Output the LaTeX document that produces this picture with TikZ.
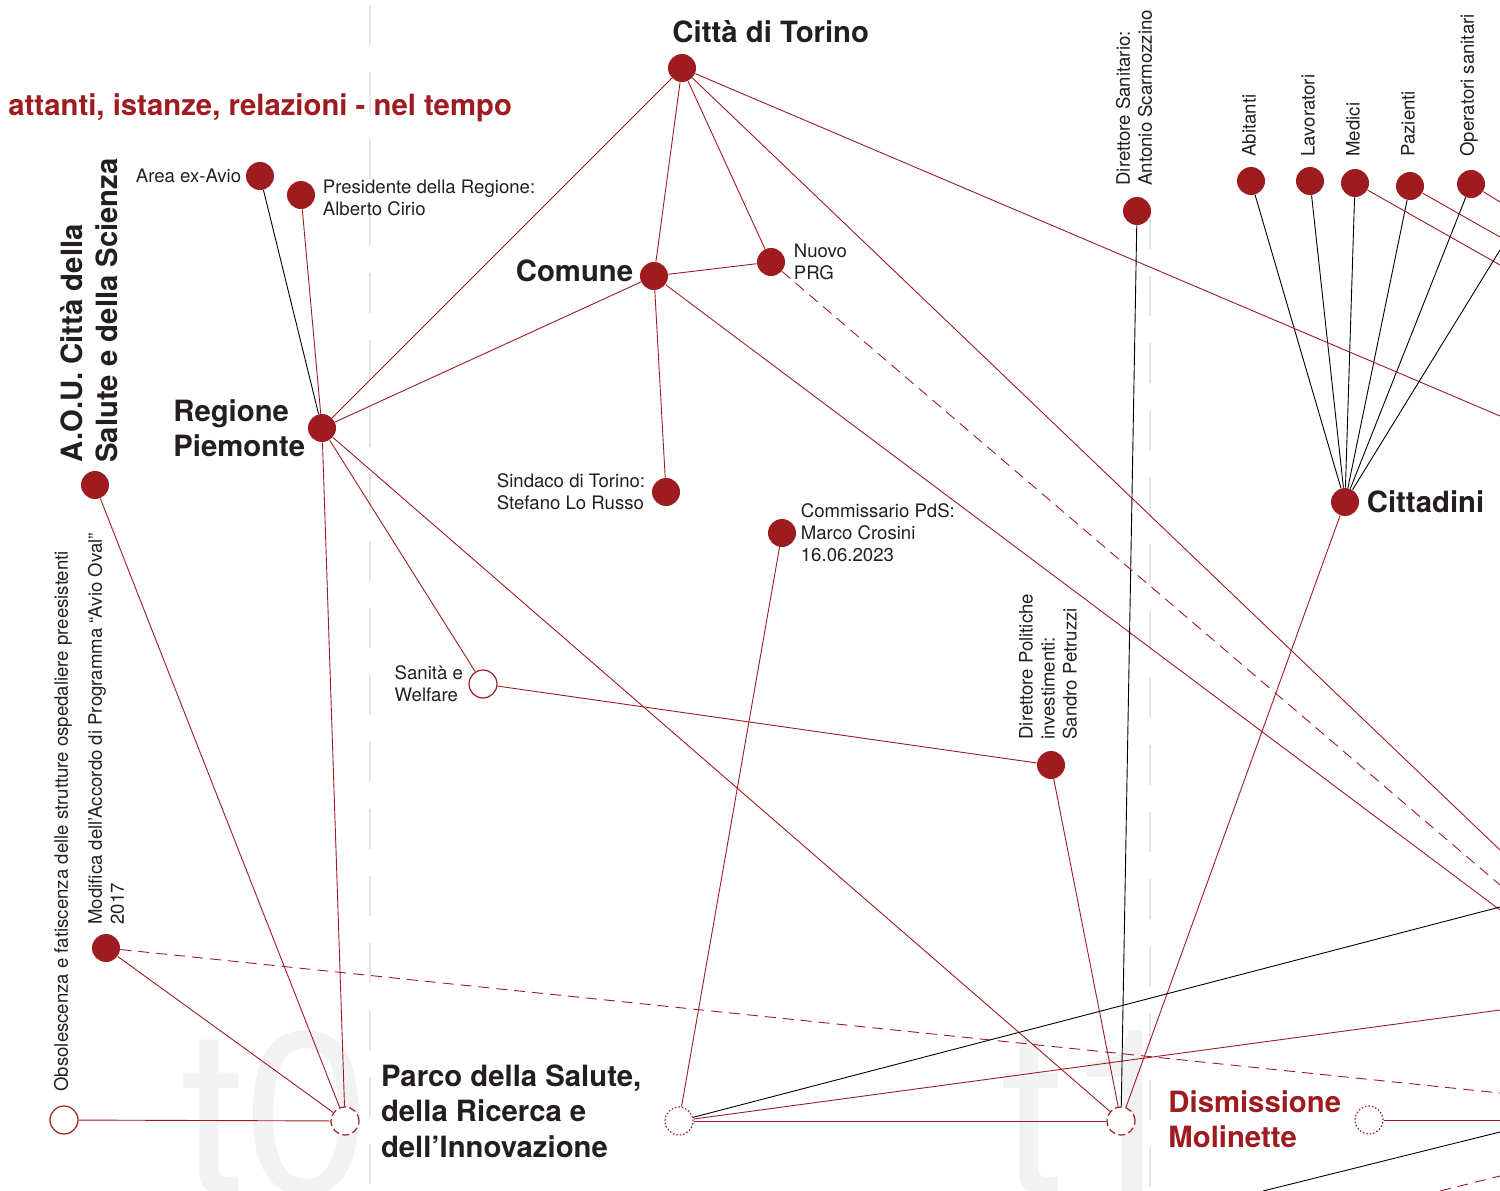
\documentclass[tikz,border=0pt]{standalone}
\usepackage{fontspec}
\setmainfont{TeX Gyre Heros}
\usetikzlibrary{positioning}

\definecolor{rosso}{RGB}{158,27,32}
\definecolor{testo}{RGB}{35,31,32}
\definecolor{griglia}{RGB}{228,228,228}
\definecolor{fondo}{RGB}{242,242,242}

\begin{document}
\begin{tikzpicture}
  [
  x=1pt, y=-1pt,
  line width=0.9pt,
  attante/.style={circle, fill=rosso, inner sep=0pt, minimum size=28pt},
  istanza/.style={circle, draw=rosso, fill=white, line width=1.2pt, inner sep=0pt, minimum size=28pt},
  evento/.style={istanza, dash pattern=on 7pt off 3.5pt},
  eventodot/.style={istanza, dash pattern=on 1.5pt off 2pt},
  rel/.style={draw=rosso},
  relnera/.style={draw=black},
  reltratt/.style={draw=rosso, dash pattern=on 11pt off 7pt},
  etich/.style={font=\fontsize{18.6}{22}\selectfont, text=testo, inner sep=0pt, align=left},
  vetich/.style={etich, rotate=90, anchor=west},
  titolo/.style={font=\fontsize{29.3}{35.5}\selectfont\bfseries, text=testo, inner sep=0pt, align=left},
  tempo/.style={font=\fontsize{228}{228}\selectfont, text=fondo, inner sep=0pt, anchor=base west},
  ]

  \useasboundingbox (0,0) rectangle (1500,1191);

  % sfondo: t0, t1 e linee del tempo
  \begin{scope}
    \clip (0,0) rectangle (1500,1191);
    \node[tempo] (t0) at (180,1192) {t0};
    \node[tempo] (t1) at (1000,1192) {t1};
  \end{scope}
  \draw[griglia, line width=2.5pt, dash pattern=on 40pt off 27pt] (370,5) -- (370,1191);
  \draw[griglia, line width=2.5pt, dash pattern=on 40pt off 27pt] (1150,8) -- (1150,1191);

  % attanti
  \node[attante] (torino) at (682,68) {};
  \node[attante] (comune) at (654,276) {};
  \node[attante] (prg) at (771,262) {};
  \node[attante] (sindaco) at (666,492) {};
  \node[attante] (regione) at (322,428) {};
  \node[attante] (avio) at (260,176) {};
  \node[attante] (presidente) at (301,195) {};
  \node[attante] (aou) at (95,485) {};
  \node[attante] (modifica) at (106,948) {};
  \node[attante] (commissario) at (782,533) {};
  \node[istanza] (sanita) at (483,684) {};
  \node[attante] (petruzzi) at (1051,765) {};
  \node[attante] (scarmozzino) at (1137,211) {};
  \node[attante] (cittadini) at (1345,502) {};

  % istanze nel tempo
  \node[istanza] (obsolescenza) at (64,1120) {};
  \node[evento] (parco) at (345,1121) {};
  \node[eventodot] (fase) at (679,1121) {};
  \node[evento] (tuno) at (1121,1121) {};
  \node[eventodot] (molinette) at (1369,1120) {};

  % etichette
  \node[titolo, text=rosso, anchor=west] (titoloL) at (8,108) {attanti, istanze, relazioni - nel tempo};
  \node[titolo, anchor=west] (torinoL) at (672,32) {Città di Torino};
  \node[titolo, left=6pt of comune, yshift=5pt] (comuneL) {Comune};
  \node[etich, right=8pt of prg] (prgL) {Nuovo\\PRG};
  \node[etich, left=6pt of sindaco] (sindacoL) {Sindaco di Torino:\\Stefano Lo Russo};
  \node[titolo, left=2pt of regione] (regioneL) {Regione\\Piemonte};
  \node[etich, left=4pt of avio] (avioL) {Area ex-Avio};
  \node[etich, right=7pt of presidente, yshift=-3pt] (presidenteL) {Presidente della Regione:\\Alberto Cirio};
  \node[titolo, rotate=90, anchor=west] (aouL) at (89,463) {A.O.U. Città della\\Salute e della Scienza};
  \node[vetich] (modificaL) at (106,925) {Modifica dell’Accordo di Programma “Avio Oval”\\2017};
  \node[vetich] (obsolescenzaL) at (63,1092) {Obsolescenza e fatiscenza delle strutture ospedaliere preesistenti};
  \node[etich, right=4pt of commissario] (commissarioL) {Commissario PdS:\\Marco Crosini\\16.06.2023};
  \node[etich, left=5pt of sanita] (sanitaL) {Sanità e\\Welfare};
  \node[vetich] (petruzziL) at (1048,740) {Direttore Politiche\\investimenti:\\Sandro Petruzzi};
  \node[vetich] (scarmozzinoL) at (1134,186) {Direttore Sanitario:\\Antonio Scarmozzino};
  \node[titolo, right=7pt of cittadini] (cittadiniL) {Cittadini};
  \node[titolo, right=21pt of parco, yshift=10pt] (parcoL) {Parco della Salute,\\della Ricerca e\\dell’Innovazione};
  \node[titolo, text=rosso, anchor=west] (molinetteL) at (1168,1119) {Dismissione\\Molinette};

  % cittadini
  \foreach \nome/\x/\y/\testo in {abitanti/1251/181/Abitanti, lavoratori/1310/181/Lavoratori,
    medici/1355/183/Medici, pazienti/1410/186/Pazienti, operatori/1471/184/Operatori sanitari} {
    \node[attante] (\nome) at (\x,\y) {};
    \node[vetich] (\nome-l) at (\x-2,157) {\testo};
    \draw[relnera] (\nome) -- (cittadini);
  }

  % uscite a destra
  \coordinate (bordo1) at (1500,416);
  \coordinate (bordo2) at (1500,850);
  \coordinate (bordo3) at (1500,910);
  \coordinate (bordo4) at (1500,885);
  \coordinate (bordo5) at (1500,1093);
  \coordinate (bordo6) at (1500,907);
  \coordinate (bordo7) at (1500,1010);
  \coordinate (bordo8) at (1500,1120);
  \coordinate (bordo9) at (1500,265);
  \coordinate (bordo10) at (1500,237);
  \coordinate (bordo11) at (1500,202);
  \coordinate (bordo12) at (1500,250);
  \coordinate (bordo13) at (1500,1132);
  \coordinate (bordo14) at (1500,1176);
  \coordinate (basso1) at (1263,1191);
  \coordinate (basso2) at (1440,1191);

  % relazioni
  \foreach \a/\b in {torino/regione, torino/comune, torino/prg, torino/bordo1, torino/bordo2,
    comune/prg, comune/sindaco, comune/regione, comune/bordo3,
    regione/presidente, regione/sanita, regione/tuno, regione/parco,
    aou/parco, modifica/parco, obsolescenza/parco,
    sanita/petruzzi, petruzzi/tuno, commissario/fase, cittadini/tuno,
    fase/tuno, fase/bordo7, molinette/bordo8,
    medici/bordo9, pazienti/bordo10, operatori/bordo11}
    \draw[rel] (\a) -- (\b);

  \foreach \a/\b in {avio/regione, scarmozzino/tuno, fase/bordo6, cittadini/bordo12, basso1/bordo13}
    \draw[relnera] (\a) -- (\b);

  \draw[reltratt] (prg) -- (bordo4);
  \draw[reltratt] (modifica) -- (bordo5);
  \draw[reltratt] (basso2) -- (bordo14);

\end{tikzpicture}
\end{document}
